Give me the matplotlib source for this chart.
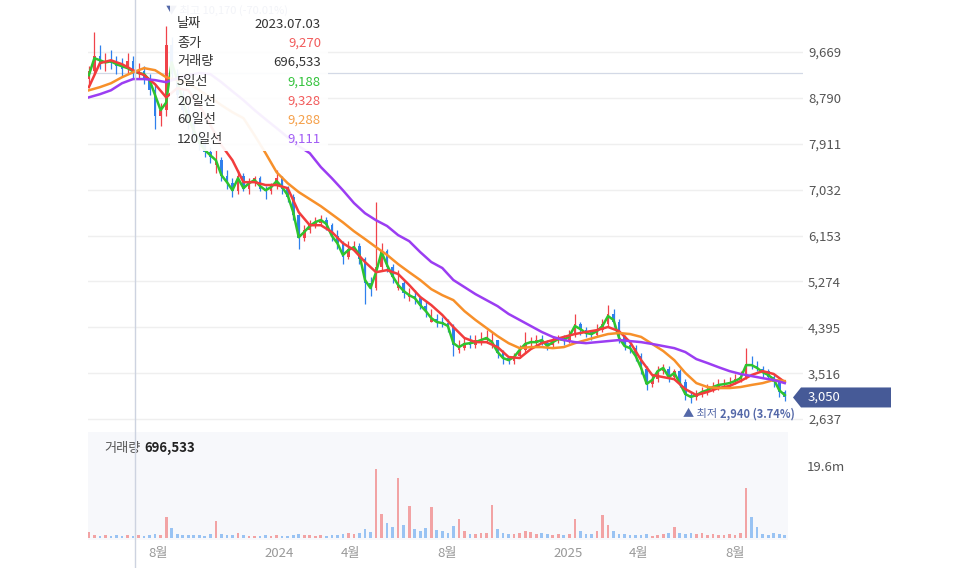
import matplotlib
matplotlib.use('Agg')
import matplotlib.pyplot as plt
import matplotlib.dates as mdates
import numpy as np
import pandas as pd
from matplotlib.patches import Rectangle, Polygon
from matplotlib.lines import Line2D
from matplotlib.transforms import IdentityTransform

plt.rcParams['font.family'] = ['Noto Sans CJK KR', 'DejaVu Sans']

# weekly candles (KRW)
weeks = pd.date_range('2023-05-05', periods=127, freq='7D')
opens = [9150, 9300, 9600, 9450, 9500, 9450, 9400, 9350, 9500, 9250,
         9300, 9150, 8950, 8450, 8550, 9800, 9250, 8850, 8550, 8300,
         8050, 7900, 7750, 7500, 7600, 7300, 7150, 7000, 7300, 7050,
         7200, 7250, 7050, 7000, 7100, 7250, 7050, 6900, 6550, 6100,
         6250, 6350, 6400, 6450, 6350, 6150, 6000, 5750, 5900, 5950,
         5700, 5250, 5150, 5550, 5850, 5550, 5150, 5250, 4980, 5000,
         4950, 4800, 4500, 4550, 4500, 4480, 4400, 3950, 4000, 4100,
         4050, 4150, 4150, 4050, 4150, 3900, 3800, 3750, 3850, 3950,
         4100, 4100, 4150, 4100, 4050, 4150, 4200, 4150, 4250, 4450,
         4350, 4300, 4250, 4350, 4450, 4650, 4500, 4200, 4050, 4000,
         3850, 3600, 3300, 3400, 3550, 3600, 3450, 3550, 3350, 3100,
         3050, 3100, 3150, 3200, 3250, 3300, 3300, 3350, 3400, 3450,
         3700, 3650, 3600, 3550, 3450, 3350, 3150]
highs = [9400, 10050, 9800, 9650, 9700, 9600, 9550, 9650, 9600, 9450,
         9400, 9250, 9050, 8700, 10170, 9950, 9350, 8950, 8650, 8400,
         8150, 8000, 7850, 7800, 7650, 7400, 7250, 7400, 7350, 7250,
         7300, 7300, 7100, 7150, 7400, 7300, 7100, 6950, 6600, 6350,
         6450, 6500, 6550, 6500, 6400, 6250, 6050, 6050, 6050, 6000,
         5750, 5350, 6790, 6000, 5900, 5600, 5500, 5300, 5150, 5100,
         5000, 4900, 4750, 4650, 4600, 4550, 4450, 4150, 4200, 4250,
         4250, 4300, 4350, 4300, 4150, 3950, 3850, 3900, 4050, 4300,
         4200, 4250, 4250, 4150, 4200, 4250, 4250, 4350, 4650, 4500,
         4400, 4350, 4450, 4550, 4820, 4750, 4550, 4250, 4100, 4050,
         3900, 3650, 3500, 3650, 3700, 3650, 3600, 3600, 3400, 3150,
         3200, 3250, 3300, 3350, 3400, 3400, 3450, 3500, 3550, 4003,
         3850, 3750, 3650, 3600, 3500, 3400, 3200]
lows = [9050, 9250, 9350, 9300, 9350, 9250, 9200, 9250, 9150, 9150,
        9050, 8850, 8200, 8250, 8450, 9150, 8750, 8450, 8200, 7950,
        7800, 7650, 7550, 7350, 7200, 7050, 6900, 6950, 7000, 6950,
        7100, 7000, 6850, 6950, 7050, 6950, 6800, 6450, 5900, 6050,
        6200, 6300, 6350, 6250, 6050, 5900, 5600, 5700, 5850, 5600,
        4850, 5000, 5100, 5500, 5450, 5250, 5100, 4950, 4900, 4850,
        4750, 4600, 4500, 4400, 4400, 4300, 3850, 3900, 3950, 4000,
        4000, 4050, 4100, 4000, 3800, 3700, 3700, 3700, 3800, 3900,
        4000, 4050, 4050, 3950, 4000, 4100, 4050, 4100, 4200, 4250,
        4200, 4150, 4200, 4300, 4400, 4400, 4100, 3950, 3900, 3750,
        3500, 3200, 3250, 3350, 3500, 3350, 3400, 3250, 3000, 2940,
        3000, 3050, 3100, 3150, 3200, 3250, 3250, 3300, 3350, 3400,
        3600, 3550, 3450, 3400, 3250, 3050, 2980]
closes = [9300, 9600, 9450, 9500, 9450, 9400, 9350, 9500, 9250, 9300,
          9150, 8950, 8450, 8550, 9800, 9250, 8850, 8550, 8300, 8050,
          7900, 7750, 7650, 7600, 7300, 7150, 7000, 7300, 7050, 7200,
          7250, 7050, 7000, 7100, 7250, 7050, 6900, 6550, 6100, 6250,
          6350, 6400, 6450, 6350, 6150, 6000, 5750, 5900, 5950, 5700,
          5250, 5150, 5550, 5850, 5550, 5350, 5250, 5050, 5000, 4950,
          4800, 4700, 4550, 4500, 4480, 4400, 4050, 4000, 4100, 4050,
          4150, 4150, 4200, 4150, 3900, 3800, 3750, 3850, 3950, 4100,
          4100, 4150, 4100, 4050, 4150, 4200, 4150, 4250, 4450, 4350,
          4300, 4250, 4350, 4450, 4650, 4500, 4200, 4050, 4000, 3850,
          3600, 3300, 3400, 3550, 3600, 3450, 3550, 3350, 3100, 3050,
          3100, 3150, 3200, 3250, 3300, 3300, 3350, 3400, 3450, 3700,
          3650, 3600, 3550, 3450, 3350, 3150, 3050]
# volume, millions of shares
volumes = [1.6, 0.8, 0.6, 0.9, 0.5, 0.7, 0.6, 0.8, 0.5, 0.7,
           0.6, 0.9, 1.2, 0.8, 5.7, 2.7, 1.0, 0.8, 0.9, 0.7,
           0.8, 0.6, 1.0, 4.6, 1.2, 0.8, 0.7, 1.3, 0.9, 0.6,
           0.5, 0.6, 0.7, 0.5, 0.9, 0.6, 0.5, 0.8, 1.2, 0.8,
           0.7, 0.6, 0.8, 0.6, 0.7, 0.9, 1.1, 1.5, 1.0, 1.3,
           2.5, 1.6, 18.8, 6.5, 4.0, 3.0, 16.3, 3.5, 8.7, 2.5,
           2.0, 2.6, 8.4, 2.2, 1.8, 1.5, 3.2, 5.2, 2.0, 1.2,
           1.0, 1.4, 1.3, 9.0, 2.5, 1.5, 1.2, 1.0, 1.3, 1.8,
           1.6, 1.2, 1.5, 1.0, 0.9, 1.1, 0.8, 1.0, 5.2, 2.0,
           1.0, 1.1, 2.0, 6.3, 3.5, 1.8, 1.2, 1.0, 0.8, 0.9,
           0.7, 1.0, 0.6, 0.8, 1.2, 1.5, 3.0, 1.3, 1.1, 1.5,
           1.2, 1.4, 0.9, 1.0, 0.8, 0.9, 1.0, 0.7, 1.5, 13.6,
           5.7, 3.0, 1.2, 0.8, 1.4, 1.0, 0.9]
ma5 = [9225, 9550, 9510, 9470, 9490, 9435, 9395, 9360, 9300, 9265,
       9245, 9130, 8840, 8555, 8700, 9470, 9130, 8745, 8400, 8170,
       7940, 7790, 7690, 7595, 7310, 7175, 7020, 7250, 7060, 7155,
       7215, 7100, 7020, 7080, 7195, 7080, 6925, 6600, 6120, 6220,
       6335, 6410, 6450, 6375, 6145, 6005, 5780, 5875, 5930, 5780,
       5300, 5145, 5450, 5835, 5585, 5375, 5205, 5090, 5010, 4955,
       4820, 4705, 4570, 4495, 4475, 4420, 4090, 4015, 4075, 4090,
       4110, 4150, 4190, 4110, 3920, 3805, 3765, 3825, 3960, 4075,
       4110, 4110, 4150, 4035, 4110, 4170, 4150, 4225, 4420, 4360,
       4285, 4265, 4320, 4420, 4610, 4535, 4190, 4035, 3995, 3845,
       3615, 3310, 3385, 3555, 3615, 3440, 3520, 3325, 3115, 3060,
       3095, 3155, 3190, 3250, 3290, 3305, 3325, 3365, 3420, 3670,
       3670, 3615, 3535, 3480, 3400, 3190, 3095]
ma_weeks = weeks[::2]
ma20 = [8995, 9455, 9510, 9435, 9320, 9225, 9050, 8800, 8975, 8935,
        8650, 8270, 7885, 7595, 7175, 7175, 7120, 7120, 7060, 6600,
        6350, 6350, 6220, 6005, 5875, 5645, 5450, 5490, 5415, 5205,
        4975, 4820, 4630, 4400, 4190, 4110, 4110, 4015, 3825, 3805,
        3975, 4090, 4150, 4210, 4265, 4305, 4340, 4400, 4320, 4110,
        3765, 3480, 3440, 3400, 3210, 3095, 3155, 3230, 3270, 3365,
        3480, 3555, 3500, 3345]
ma60 = [8935, 8995, 9070, 9185, 9280, 9360, 9320, 9185, 9130, 9070,
        8935, 8800, 8650, 8515, 8400, 8075, 7730, 7365, 7155, 6985,
        6850, 6715, 6560, 6405, 6235, 6085, 5930, 5780, 5605, 5450,
        5300, 5125, 5010, 4915, 4705, 4535, 4380, 4225, 4090, 3995,
        4015, 4015, 3995, 4015, 4090, 4150, 4210, 4265, 4285, 4265,
        4210, 4075, 3940, 3765, 3520, 3325, 3250, 3230, 3230, 3250,
        3290, 3325, 3385, 3365]
ma120 = [8800, 8860, 8935, 9070, 9150, 9150, 9130, 9090, 9165, 9225,
         9265, 9245, 9090, 8915, 8745, 8555, 8380, 8210, 8035, 7865,
         7730, 7465, 7250, 7020, 6775, 6580, 6445, 6335, 6160, 6045,
         5835, 5645, 5530, 5300, 5165, 5030, 4915, 4800, 4650, 4535,
         4420, 4305, 4210, 4150, 4110, 4090, 4110, 4130, 4150, 4130,
         4110, 4075, 4035, 3995, 3920, 3785, 3710, 3630, 3555, 3500,
         3460, 3420, 3385, 3325]

price_ticks = [2637, 3516, 4395, 5274, 6153, 7032, 7911, 8790, 9669]
vol_ticks = [19.6]
month_ticks = ['2023-08-01', '2024-01-01', '2024-04-01', '2024-08-01',
               '2025-01-01', '2025-04-01', '2025-08-01']
month_labels = ['8월', '2024', '4월', '8월', '2025', '4월', '8월']

hover_date = '2023-07-03'
hover_close = 9270
hover_volume = 696533
hover_ma = [9188, 9328, 9288, 9111]
tip_labels = ['날짜', '종가', '거래량', '5일선', '20일선', '60일선', '120일선']

C_UP, C_DOWN = '#f0434a', '#2f80ed'
C_MA = ['#2ec42e', '#f23c3c', '#f7902a', '#9b3df2']
C_MARK = '#5468a8'

W, H = 960, 568
fig = plt.figure(figsize=(W / 100, H / 100), dpi=100)


def rect(l, t, r, b):
    return [l / W, 1 - b / H, (r - l) / W, (b - t) / H]


ax = fig.add_axes(rect(88, 0, 803, 428))
axv = fig.add_axes(rect(88, 432, 788, 540))

ref = mdates.date2num(pd.Timestamp('2024-01-01'))


def px2num(px):
    return ref + (px - 279) / 0.789


ax.set_xlim(px2num(88), px2num(803))
axv.set_xlim(px2num(88), px2num(788))
ax.set_ylim(2465, 10665)
axv.set_ylim(-0.54, 28.85)

x = mdates.date2num(weeks)
o, h, l, c = map(np.array, (opens, highs, lows, closes))
up = c >= o
ccol = np.where(up, C_UP, C_DOWN)

# price panel
ax.set_yticks(price_ticks)
ax.set_yticklabels([f'{v:,}' for v in price_ticks])
ax.yaxis.tick_right()
ax.tick_params(axis='y', length=0, pad=3.6, labelsize=9.5, labelcolor='#555555')
ax.set_xticks([])
ax.grid(axis='y', color='#efefef', lw=1)
ax.set_axisbelow(True)
for s in ax.spines.values():
    s.set_visible(False)

ax.axhline(hover_close, color='#d3d9e6', lw=0.9, zorder=1)
ax.vlines(x, l, h, colors=ccol, lw=0.9, zorder=2)
ax.bar(x, np.maximum(np.abs(c - o), 20), bottom=np.minimum(o, c), width=3.4,
       color=ccol, zorder=2)

ax.plot(x, ma5, color=C_MA[0], lw=1.8, zorder=4)
xm = mdates.date2num(ma_weeks)
ax.plot(xm, ma20, color=C_MA[1], lw=1.8, zorder=4)
ax.plot(xm, ma60, color=C_MA[2], lw=1.8, zorder=4)
ax.plot(xm, ma120, color=C_MA[3], lw=1.8, zorder=4)

# max / min markers
imax = int(np.argmax(h))
imin = int(np.argmin(l))
last_close = closes[-1]
pmax = (last_close / h[imax] - 1) * 100
pmin = (last_close / l[imin] - 1) * 100
ax.annotate(f'▼ 최고 {int(h[imax]):,} ({pmax:.2f}%)', xy=(x[imax], h[imax]),
            xytext=(0, 15), textcoords='offset pixels', ha='left', va='center',
            fontsize=8, color=C_MARK, zorder=5)
t1 = ax.annotate('▲ 최저', xy=(x[imin], l[imin]), xytext=(-8, -11),
                 textcoords='offset pixels', ha='left', va='center',
                 fontsize=8, color=C_MARK, zorder=5)
ax.annotate(f'{int(l[imin]):,} ({pmin:.2f}%)', xy=(1, 0.5), xycoords=t1,
            xytext=(2, 0), textcoords='offset points', ha='left', va='center',
            fontsize=8, color=C_MARK, fontweight='bold', zorder=5)

# volume panel
axv.set_facecolor('#f7f8fb')
vcol = np.where(up, '#ef6b6b', '#5aa0ef')
axv.bar(x, volumes, width=3.4, color=vcol, alpha=0.6, zorder=2)
axv.set_yticks(vol_ticks)
axv.set_yticklabels([f'{v}m' for v in vol_ticks])
axv.yaxis.tick_right()
axv.tick_params(axis='y', length=0, pad=13.7, labelsize=9.5, labelcolor='#555555')
axv.set_xticks(mdates.date2num(pd.to_datetime(month_ticks)))
axv.set_xticklabels(month_labels)
axv.tick_params(axis='x', length=0, pad=5, labelsize=9.5, labelcolor='#999999')
for s in axv.spines.values():
    s.set_visible(False)
t2 = axv.text(16 / 700, 0.85, '거래량', transform=axv.transAxes, ha='left',
              va='center', fontsize=9.5, color='#555555')
axv.annotate(f'{hover_volume:,}', xy=(1, 0.5), xycoords=t2, xytext=(3, 0),
             textcoords='offset points', ha='left', va='center', fontsize=9.5,
             color='#222222', fontweight='bold')

# crosshair vertical line
fig.canvas.draw()
hx = ax.transData.transform((mdates.date2num(pd.Timestamp(hover_date)), 0))[0]
fig.add_artist(Line2D([hx, hx], [0, H], transform=IdentityTransform(),
                      color='#cdd3e0', lw=1, zorder=1))

# tooltip
fig.add_artist(Rectangle((170 / W, 1 - 151 / H), 158 / W, 151 / H,
                         transform=fig.transFigure, facecolor='white',
                         edgecolor='none', alpha=0.93, zorder=5))
tip_values = [pd.Timestamp(hover_date).strftime('%Y.%m.%d'), f'{hover_close:,}',
              f'{hover_volume:,}'] + [f'{v:,}' for v in hover_ma]
tip_colors = ['#333333', '#f25c5c', '#333333', '#33c33c', '#f25c5c', '#f5a04a', '#a15cf5']
tip_y = [24, 43, 62, 82, 101, 120, 139]
for lab, val, col, yy in zip(tip_labels, tip_values, tip_colors, tip_y):
    fig.text(177 / W, 1 - yy / H, lab, ha='left', va='center', fontsize=9.5,
             color='#333333', zorder=6)
    fig.text(321 / W, 1 - yy / H, val, ha='right', va='center', fontsize=9.5,
             color=col, zorder=6)

# current price tag
py = ax.transData.transform((0, last_close))[1]
tag = [(793, py), (801, py + 10), (891, py + 10), (891, py - 10), (801, py - 10)]
fig.add_artist(Polygon(tag, closed=True, transform=IdentityTransform(),
                       facecolor='#465a97', edgecolor='none', zorder=6))
fig.text(808 / W, py / H, f'{last_close:,}', ha='left', va='center',
         fontsize=9.5, color='white', zorder=7)

fig.savefig('out.png', dpi=100)
